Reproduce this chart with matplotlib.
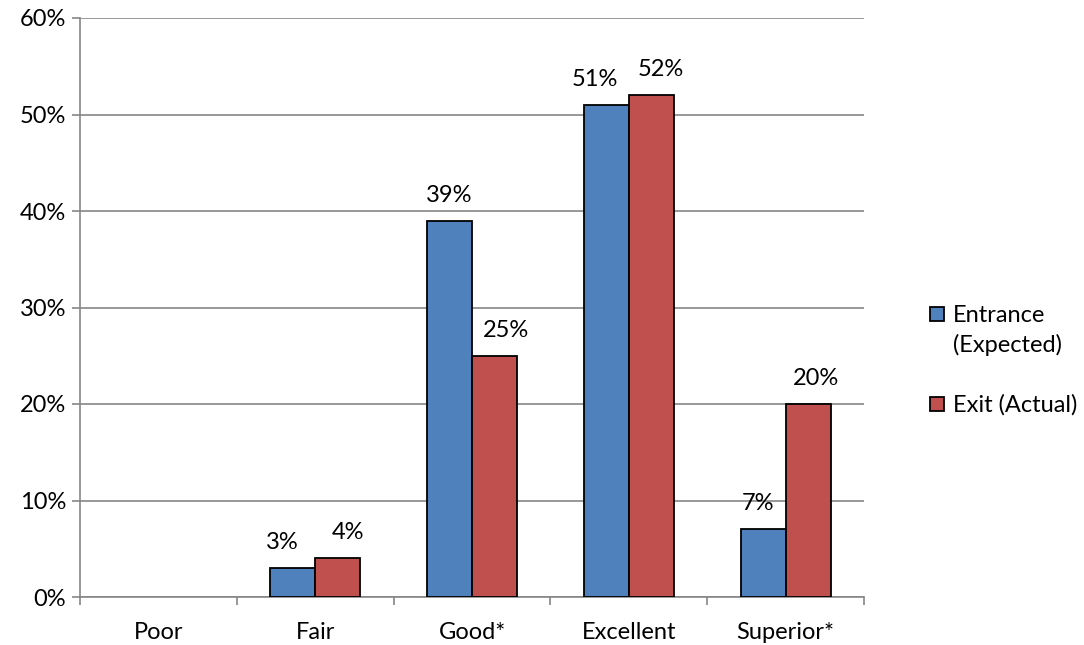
import numpy as np
import matplotlib
matplotlib.use("Agg")
import matplotlib.pyplot as plt
from matplotlib.patches import Rectangle

plt.rcParams['font.family'] = ['Lato', 'DejaVu Sans']

categories = ["Poor", "Fair", "Good*", "Excellent", "Superior*"]
entrance = [np.nan, 3, 39, 51, 7]
exit_actual = [np.nan, 4, 25, 52, 20]
series_names = ["Entrance\n(Expected)", "Exit (Actual)"]
colors = ["#4F81BD", "#C0504D"]
yticks = [0, 10, 20, 30, 40, 50, 60]
# horizontal nudges of the data labels (pixels), as placed in the original
entrance_label_dx = [0, -10, 0, -11, -5]
exit_label_dx = [0, 10, 11, 9.5, 7.5]

W, H = 1084, 645
FS = 17
fig = plt.figure(figsize=(W/100, H/100), dpi=100)
ax = fig.add_axes([80/W, 48/H, 784/W, 579/H])

px = 72/100  # points per pixel
x = np.arange(len(categories))
w = 0.287
for vals, off, c, dxs in [(entrance, -w/2, colors[0], entrance_label_dx),
                          (exit_actual, w/2, colors[1], exit_label_dx)]:
    ax.bar(x + off, vals, width=w, color=c, edgecolor="black", linewidth=1.3, zorder=3)
    for xi, v, dx in zip(x + off, vals, dxs):
        if not np.isnan(v):
            ax.annotate(f"{v:.0f}%", (xi, v), xytext=(dx*px, 19*px), textcoords="offset points",
                        ha="center", va="baseline", fontsize=FS)

ax.set_xlim(-0.5, len(categories) - 0.5)
ax.set_ylim(0, 60)
ax.set_yticks(yticks)
ax.set_yticklabels([f"{t}%" for t in yticks], fontsize=FS)
ax.yaxis.grid(True, color="#868686", linewidth=1.2, zorder=0)
ax.set_xticks(np.arange(-0.5, len(categories), 1.0))
ax.set_xticklabels([])
ax.set_xticks(x, minor=True)
ax.set_xticklabels(categories, minor=True, fontsize=FS)
ax.tick_params(axis="x", which="minor", length=0, pad=18)
ax.tick_params(axis="x", which="major", length=6, color="#868686", width=1.2)
ax.tick_params(axis="y", length=6, color="#868686", width=1.2, pad=4)
for s in ["top", "right"]:
    ax.spines[s].set_visible(False)
for s in ["left", "bottom"]:
    ax.spines[s].set_color("#868686")
    ax.spines[s].set_linewidth(1.2)

# legend, laid out like the original (handle aligned with first text line)
legend_baselines = [322, 412]
line_pitch = 30
for name, c, yb in zip(series_names, colors, legend_baselines):
    fig.add_artist(Rectangle((930/W, 1 - (yb - 1)/H), 14/W, 14/H, transform=fig.transFigure,
                             facecolor=c, edgecolor="black", linewidth=1.3))
    for i, line in enumerate(name.split("\n")):
        fig.text(953/W, 1 - (yb + i*line_pitch)/H, line, fontsize=FS, ha="left", va="baseline")

fig.savefig("out.png", dpi=100)
